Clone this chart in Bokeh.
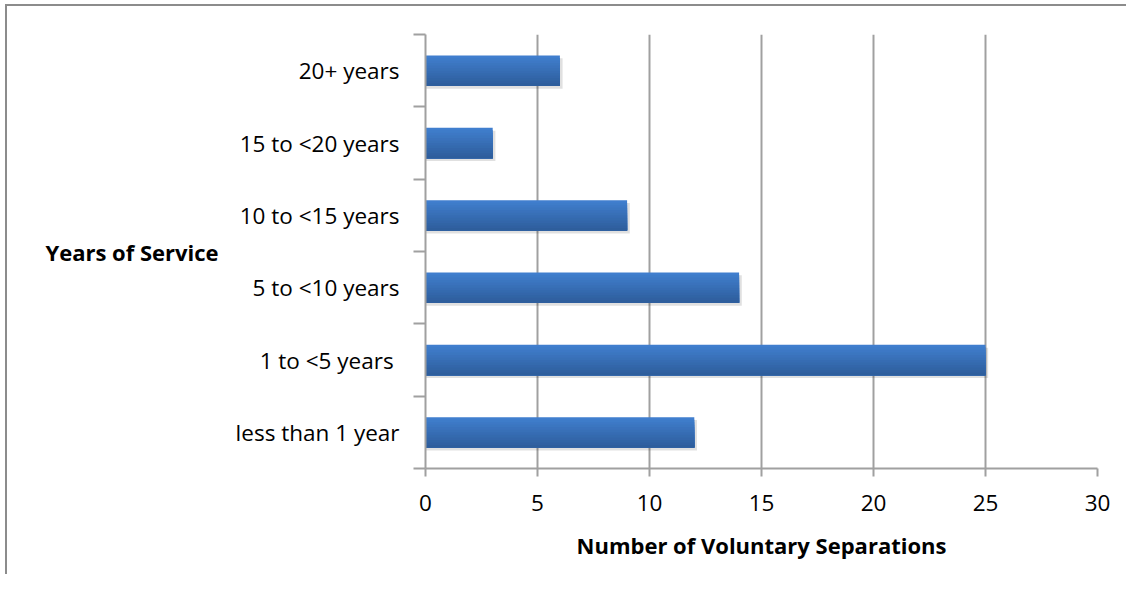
from bokeh.plotting import figure
from bokeh.models import FixedTicker, ColumnDataSource
from bokeh.embed import file_html
from bokeh.resources import INLINE

categories = ["less than 1 year", "1 to <5  years", "5 to <10 years",
              "10 to <15 years", "15 to <20 years", "20+ years"]
values = [12, 25, 14, 9, 3, 6]
x_ticks = [0, 5, 10, 15, 20, 25, 30]

FONT = "Open Sans"
TICK_FS = "22.5px"
LABEL_FS = "22px"
BAR_H = 0.42
N_STRIPS = 12
TOP_C = (0x41, 0x80, 0xd0)
BOT_C = (0x2d, 0x5c, 0x9a)

p = figure(width=1121, height=570, output_backend="svg", toolbar_location=None,
           x_range=(0, 30), y_range=(0, len(categories)),
           min_border_left=418, min_border_right=31, min_border_top=28, min_border_bottom=108)
p.styles = {"border-top": "2px solid #8c8c8c", "border-left": "2px solid #8c8c8c",
            "margin-left": "5px", "margin-top": "4px"}

centers = [i + 0.5 for i in range(len(categories))]

# shadow
p.hbar(y=[c - 0.04 for c in centers], right=[v + 0.12 for v in values], left=0,
       height=BAR_H, fill_color="#000000", fill_alpha=0.12, line_color=None)

# gradient bars: nested rectangles anchored at the bar bottom
ys, rights, hs, cols = [], [], [], []
for c, v in zip(centers, values):
    bottom = c - BAR_H / 2
    for k in range(N_STRIPS, 0, -1):
        frac = k / N_STRIPS
        t = (k - 0.5) / N_STRIPS
        col = tuple(int(round(BOT_C[j] + (TOP_C[j] - BOT_C[j]) * t)) for j in range(3))
        h = BAR_H * frac
        ys.append(bottom + h / 2)
        rights.append(v)
        hs.append(h)
        cols.append("#%02x%02x%02x" % col)
src = ColumnDataSource(dict(y=ys, right=rights, h=hs, c=cols))
p.hbar(y="y", right="right", left=0, height="h", fill_color="c", line_color=None, source=src)

p.outline_line_color = None
p.ygrid.grid_line_color = None
p.xgrid.grid_line_color = "#a0a0a0"
p.xgrid.grid_line_width = 2

xa = p.xaxis[0]
xa.ticker = FixedTicker(ticks=x_ticks)
xa.axis_line_color = "#a0a0a0"
xa.axis_line_width = 2
xa.major_tick_line_color = "#a0a0a0"
xa.major_tick_line_width = 2
xa.major_tick_out = 8
xa.major_tick_in = 0
xa.minor_tick_line_color = None
xa.major_label_text_font = FONT
xa.major_label_text_font_size = TICK_FS
xa.major_label_text_color = "#000000"
xa.major_label_standoff = 18
xa.axis_label = "Number of Voluntary Separations"
xa.axis_label_text_font = FONT
xa.axis_label_text_font_style = "bold"
xa.axis_label_text_font_size = LABEL_FS
xa.axis_label_text_color = "#000000"
xa.axis_label_standoff = 16

ya = p.yaxis[0]
ya.ticker = FixedTicker(ticks=centers, minor_ticks=list(range(len(categories) + 1)))
ya.major_label_overrides = {c: lab for c, lab in zip(centers, categories)}
ya.axis_line_color = "#a0a0a0"
ya.axis_line_width = 2
ya.major_tick_line_color = None
ya.major_tick_out = 0
ya.major_tick_in = 0
ya.minor_tick_line_color = "#a0a0a0"
ya.minor_tick_line_width = 2
ya.minor_tick_out = 12
ya.minor_tick_in = 0
ya.major_label_text_font = FONT
ya.major_label_text_font_size = TICK_FS
ya.major_label_text_color = "#000000"
ya.major_label_standoff = 14
ya.axis_label = "Years of Service"
ya.axis_label_orientation = "horizontal"
ya.axis_label_text_font = FONT
ya.axis_label_text_font_style = "bold"
ya.axis_label_text_font_size = LABEL_FS
ya.axis_label_text_color = "#000000"
ya.axis_label_standoff = 14

open("out.html", "w").write(file_html(p, INLINE))
